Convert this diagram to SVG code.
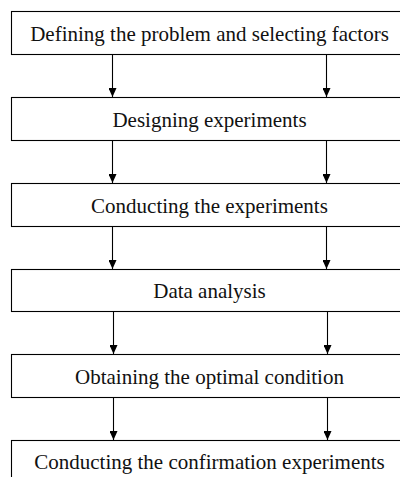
<svg xmlns="http://www.w3.org/2000/svg" width="400" height="477" viewBox="0 0 400 477">
<defs>
<style>
.box{fill:#fff;stroke:#000;stroke-width:1.1}
.lbl{font-family:"Liberation Serif","Times New Roman",serif;font-size:21px;fill:#111;text-anchor:middle}
.conn line{stroke:#000;stroke-width:1.1}
</style>
<marker id="ah" viewBox="0 0 9 8" refX="9" refY="4" markerWidth="9" markerHeight="8" markerUnits="userSpaceOnUse" orient="auto">
<path d="M0,0 L9,4 L0,8 Z" fill="#000"/>
</marker>
</defs>
<rect width="400" height="477" fill="#fff"/>
<g id="n1"><rect class="box" x="11.5" y="11.5" width="397" height="43"/><text class="lbl" x="209.5" y="40.5">Defining the problem and selecting factors</text></g>
<g id="n2"><rect class="box" x="11.5" y="97.5" width="397" height="43"/><text class="lbl" x="209.5" y="126.5">Designing experiments</text></g>
<g id="n3"><rect class="box" x="11.5" y="183.5" width="397" height="43"/><text class="lbl" x="209.5" y="212.5">Conducting the experiments</text></g>
<g id="n4"><rect class="box" x="11.5" y="269.5" width="397" height="42"/><text class="lbl" x="209.5" y="298">Data analysis</text></g>
<g id="n5"><rect class="box" x="11.5" y="354.5" width="397" height="43"/><text class="lbl" x="209.5" y="383.5">Obtaining the optimal condition</text></g>
<g id="n6"><rect class="box" x="11.5" y="440.5" width="397" height="43"/><text class="lbl" x="209.5" y="469">Conducting the confirmation experiments</text></g>
<g class="conn" id="connectors">
<line x1="112.5" y1="54.5" x2="112.5" y2="97" marker-end="url(#ah)"/>
<line x1="326.5" y1="54.5" x2="326.5" y2="97" marker-end="url(#ah)"/>
<line x1="112.5" y1="140.5" x2="112.5" y2="183" marker-end="url(#ah)"/>
<line x1="326.5" y1="140.5" x2="326.5" y2="183" marker-end="url(#ah)"/>
<line x1="112.5" y1="226.5" x2="112.5" y2="269" marker-end="url(#ah)"/>
<line x1="326.5" y1="226.5" x2="326.5" y2="269" marker-end="url(#ah)"/>
<line x1="113.5" y1="311.5" x2="113.5" y2="354" marker-end="url(#ah)"/>
<line x1="327.5" y1="311.5" x2="327.5" y2="354" marker-end="url(#ah)"/>
<line x1="113.5" y1="397.5" x2="113.5" y2="440" marker-end="url(#ah)"/>
<line x1="327.5" y1="397.5" x2="327.5" y2="440" marker-end="url(#ah)"/>
</g>
</svg>
